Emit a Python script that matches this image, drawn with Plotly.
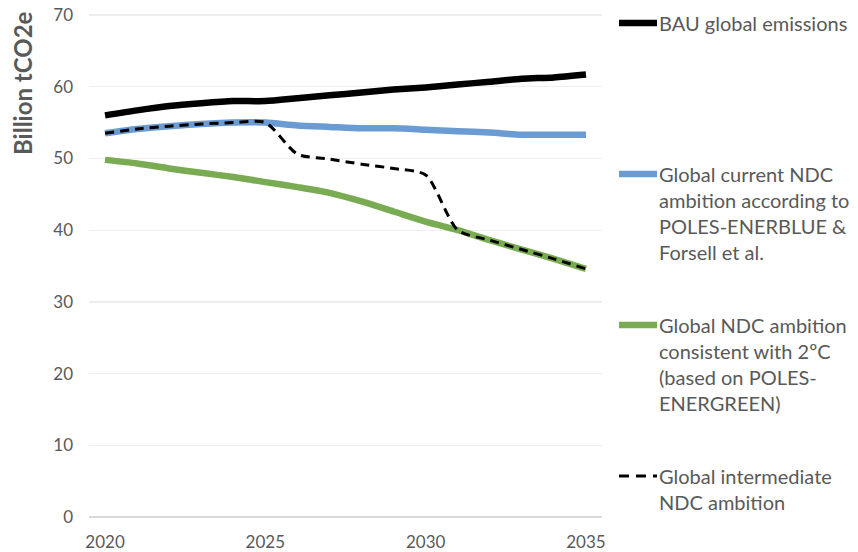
import plotly.graph_objects as go

years = list(range(2020, 2036))
bau = [56.0, 56.7, 57.3, 57.7, 58.0, 58.0, 58.4, 58.8, 59.2, 59.6, 59.9, 60.3, 60.7, 61.1, 61.3, 61.7]
current_ndc = [53.5, 54.1, 54.5, 54.8, 55.0, 55.0, 54.6, 54.4, 54.2, 54.2, 54.0, 53.8, 53.6, 53.3, 53.3, 53.3]
ndc_2c = [49.8, 49.3, 48.6, 48.0, 47.4, 46.7, 46.0, 45.2, 44.0, 42.6, 41.2, 40.0, 38.6, 37.3, 36.0, 34.6]
intermediate = [53.5, 54.1, 54.5, 54.8, 55.0, 55.0, 50.6, 49.9, 49.2, 48.6, 47.7, 40.0, 38.6, 37.3, 36.0, 34.6]

x_tickvals = [2020, 2025, 2030, 2035]
x_ticktext = ["2020", "2025", "2030", "2035"]
y_tickvals = [0, 10, 20, 30, 40, 50, 60, 70]

legend_names = [
    "BAU global emissions",
    "Global current NDC<br>ambition according to<br>POLES-ENERBLUE &<br>Forsell et al.",
    "Global NDC ambition<br>consistent with 2ºC<br>(based on POLES-<br>ENERGREEN)",
    "Global intermediate<br>NDC ambition",
]
y_title = "Billion tCO2e"

BLACK = "#000000"
BLUE = "#6A9BD2"
GREEN = "#79AC52"
TXT = "#595959"
FONT = "Lato"

W, H = 858, 552
L, R, T, B = 89, 256, 13, 35
PW = W - L - R
PH = H - T - B
Y_MAX = 70.28  # a hair above the top tick so the 70 grid line is drawn

fig = go.Figure()
series = [
    (bau, BLACK, 6.5, "solid"),
    (current_ndc, BLUE, 6.5, "solid"),
    (ndc_2c, GREEN, 6.5, "solid"),
    (intermediate, BLACK, 3, "9px,6px"),
]
for vals, col, w, dash in series:
    fig.add_trace(go.Scatter(
        x=years, y=vals, mode="lines",
        line=dict(color=col, width=w, dash=dash, shape="spline", smoothing=0.7),
        showlegend=False, hoverinfo="skip",
    ))

def px_x(px):
    return (px - L) / PW

def px_y(py):
    return (H - B - py) / PH

# manual legend
legend_font = 20
line_sp = 1.3 * legend_font
first_line_y = [23, 174, 325, 476]
shapes = []
annotations = []
for i, (name, (vals, col, w, dash)) in enumerate(zip(legend_names, series)):
    n = name.count("<br>") + 1
    y0 = first_line_y[i]
    shapes.append(dict(
        type="line", xref="paper", yref="paper",
        x0=px_x(619), x1=px_x(657), y0=px_y(y0), y1=px_y(y0),
        line=dict(color=col, width=w, dash="solid" if dash == "solid" else "10px,7px"),
    ))
    center = y0 + (n - 1) * line_sp / 2
    annotations.append(dict(
        text=name, xref="paper", yref="paper",
        x=px_x(657), y=px_y(center), xanchor="left", yanchor="middle",
        showarrow=False, align="left",
        font=dict(family=FONT, size=legend_font, color=TXT),
    ))

annotations.append(dict(
    text="<b>" + y_title + "</b>", xref="paper", yref="paper",
    x=px_x(22), y=px_y(9), xanchor="center", yanchor="top",
    textangle=-90, showarrow=False,
    font=dict(family=FONT, size=24, color=TXT),
))

fig.update_layout(
    width=W, height=H,
    margin=dict(l=L, r=R, t=T, b=B, pad=0, autoexpand=False),
    paper_bgcolor="white", plot_bgcolor="white",
    shapes=shapes, annotations=annotations,
    xaxis=dict(
        range=[2019.5, 2035.5], tickvals=x_tickvals, ticktext=x_ticktext,
        showgrid=False, zeroline=False, showline=False, ticks="",
        automargin=False, ticklabelstandoff=13,
        tickfont=dict(family=FONT, size=17, color=TXT),
    ),
    yaxis=dict(
        range=[0, Y_MAX], tickvals=y_tickvals,
        showgrid=True, gridcolor="#EEEEEE", gridwidth=1.3,
        zeroline=True, zerolinecolor="#D9D9D9", zerolinewidth=1.3,
        showline=False, ticks="", ticklabelstandoff=15,
        automargin=False,
        tickfont=dict(family=FONT, size=17, color=TXT),
    ),
    showlegend=False,
)

fig.write_html(
    "out.html",
    config={"displayModeBar": False, "staticPlot": True},
    post_script="document.body.style.margin='0';",
)
